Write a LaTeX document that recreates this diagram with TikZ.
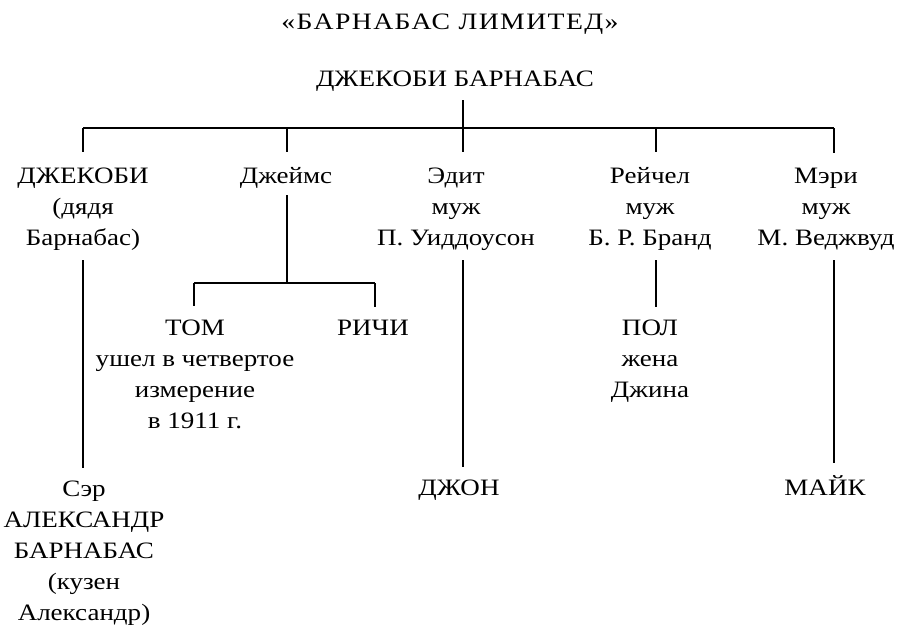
\documentclass[tikz,border=0pt]{standalone}
\usepackage{fontspec}
\setmainfont{Liberation Serif}[FakeStretch=1.15]
\newfontfamily\titlefont{Liberation Serif}[FakeStretch=1.18,LetterSpace=6]
\begin{document}
\begin{tikzpicture}[x=1pt,y=-1pt,
  every node/.style={inner sep=0pt, outer sep=0pt, align=center,
    font=\fontsize{23.5}{31}\selectfont},
  link/.style={line width=1.2pt},
  tick/.style={link, shorten >=15pt},
  down/.style={link, shorten <=10pt, shorten >=12pt}]
\useasboundingbox (0,0) rectangle (900,635);

% texts (anchor = baseline of the last line)
\node[anchor=base, font=\titlefont\fontsize{23.5}{31}\selectfont] (title) at (450,29) {«БАРНАБАС ЛИМИТЕД»};
\node[anchor=base] (top)   at (455,86) {ДЖЕКОБИ БАРНАБАС};

\node[anchor=base] (jac)   at (83,245)  {ДЖЕКОБИ\\(дядя\\Барнабас)};
\node[anchor=base] (james) at (286,183) {Джеймс};
\node[anchor=base] (edit)  at (456,245) {Эдит\\муж\\П. Уиддоусон};
\node[anchor=base] (rach)  at (650,245) {Рейчел\\муж\\Б. Р. Бранд};
\node[anchor=base] (mary)  at (826,245) {Мэри\\муж\\М. Веджвуд};

\node[anchor=base] (tom)   at (195,428) {ТОМ\\ушел в четвертое\\измерение\\в 1911 г.};
\node[anchor=base] (richi) at (373,335) {РИЧИ};
\node[anchor=base] (pol)   at (650,397) {ПОЛ\\жена\\Джина};

\node[anchor=base] (sir)   at (84,620)  {Сэр\\АЛЕКСАНДР\\БАРНАБАС\\(кузен\\Александр)};
\node[anchor=base] (john)  at (459,495) {ДЖОН};
\node[anchor=base] (mike)  at (825,495) {МАЙК};

% bus coordinates
\coordinate (b1) at (83,128);
\coordinate (b2) at (287,128);
\coordinate (b3) at (463,128);
\coordinate (b4) at (656,128);
\coordinate (b5) at (834,128);
\coordinate (j0) at (287,283);
\coordinate (j1) at (194,283);
\coordinate (j2) at (375,283);

% main bus
\draw[link] ([xshift=8pt,yshift=-14pt]top.base) -- (b3);
\draw[link] (b1) -- (b5);
\draw[tick] (b1) -- (b1 |- jac.north);
\draw[tick] (b2) -- (b2 |- james.north);
\draw[tick] (b3) -- (b3 |- edit.north);
\draw[tick] (b4) -- (b4 |- rach.north);
\draw[tick] (b5) -- (b5 |- mary.north);

% James branch
\draw[link] ([yshift=-12pt]james.base -| b2) -- (j0);
\draw[link] (j1) -- (j2);
\draw[link, shorten >=13pt] (j1) -- (j1 |- tom.north);
\draw[link, shorten >=13pt] (j2) -- (j2 |- richi.north);

% descendants
\draw[down] (b1 |- jac.south) -- (b1 |- sir.north);
\draw[down] (b3 |- edit.south) -- (b3 |- john.north);
\draw[down] (b4 |- rach.south) -- (b4 |- pol.north);
\draw[down] (b5 |- mary.south) -- (b5 |- mike.north);
\end{tikzpicture}
\end{document}
